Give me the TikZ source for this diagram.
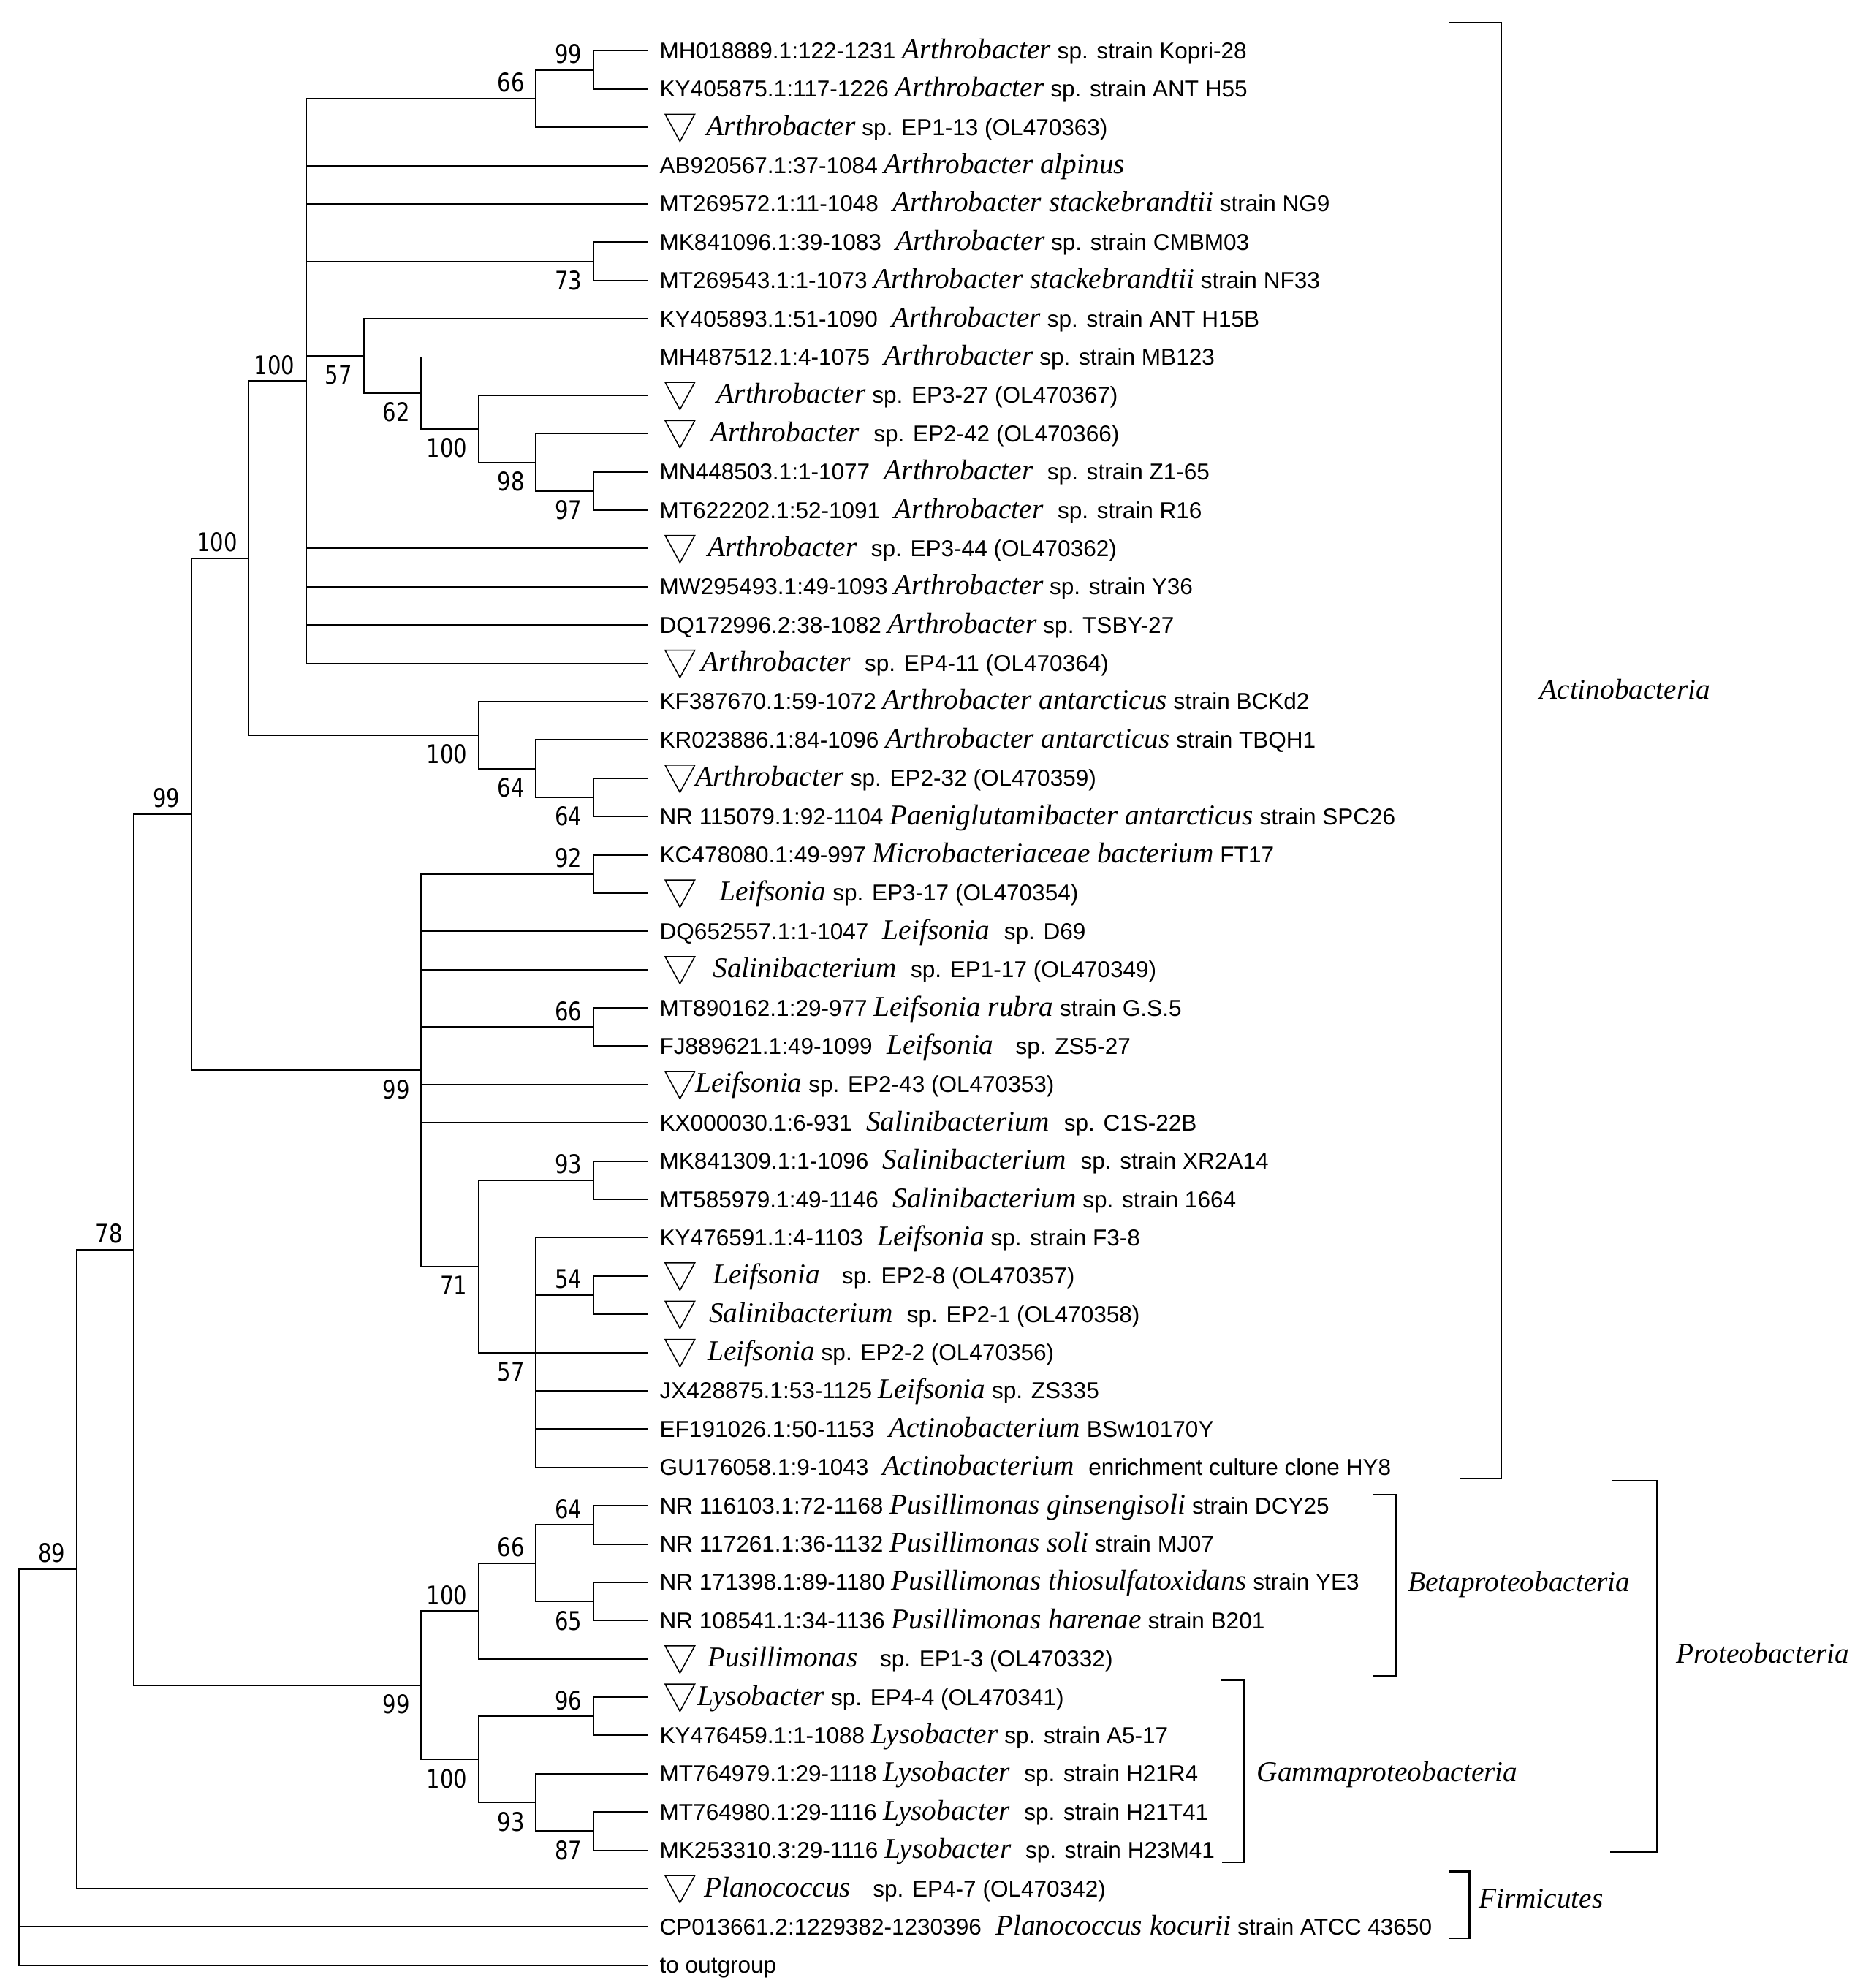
\documentclass[tikz,border=0pt]{standalone}
\usepackage{fontspec}
\setmainfont{Liberation Sans}
\newfontfamily\serifit{Liberation Serif}
\newfontfamily\bsfam[FakeStretch=0.83]{DejaVu Sans}
\newcommand\gn[1]{{\fontsize{12.9}{14}\selectfont\serifit\itshape #1}}
\newcommand\xs{\hspace{3.5pt}}
\tikzset{
  branch/.style={line width=0.65pt},
  leaftext/.style={anchor=base west, inner sep=0pt, yshift=-3.6pt, font=\fontsize{10.35}{12}\selectfont},
  bsup/.style={anchor=base east, inner sep=0pt, xshift=-4.9pt, yshift=3pt, font={\bsfam\fontsize{11.5}{13}\selectfont}},
  bsdown/.style={anchor=base east, inner sep=0pt, xshift=-4.9pt, yshift=-12.8pt, font={\bsfam\fontsize{11.5}{13}\selectfont}},
  tri/.style={line width=0.5pt, line join=miter},
  grouptext/.style={anchor=base west, inner sep=0pt, font={\serifit\itshape\fontsize{12.9}{14}\selectfont}},
  bracket/.style={line width=0.7pt}
}
\newcommand\leaftri[1]{\draw[tri] (524.6,{#1-10.3}) -- (548,{#1-10.3}) -- (536.3,{#1+11.2}) -- cycle;}
\begin{document}
\begin{tikzpicture}[x=0.02cm, y=-0.02cm]
\fill[white] (0,0) rectangle (1478,1568);
\useasboundingbox (0,0) rectangle (1478,1568);
% leaves
\coordinate (L1) at (511,40);
\coordinate (L2) at (511,70.2);
\coordinate (L3) at (511,100.4);
\coordinate (L4) at (511,130.6);
\coordinate (L5) at (511,160.8);
\coordinate (L6) at (511,191);
\coordinate (L7) at (511,221.2);
\coordinate (L8) at (511,251.4);
\coordinate (L9) at (511,281.6);
\coordinate (L10) at (511,311.8);
\coordinate (L11) at (511,342);
\coordinate (L12) at (511,372.2);
\coordinate (L13) at (511,402.4);
\coordinate (L14) at (511,432.6);
\coordinate (L15) at (511,462.8);
\coordinate (L16) at (511,493);
\coordinate (L17) at (511,523.2);
\coordinate (L18) at (511,553.4);
\coordinate (L19) at (511,583.6);
\coordinate (L20) at (511,613.8);
\coordinate (L21) at (511,644);
\coordinate (L22) at (511,674.2);
\coordinate (L23) at (511,704.4);
\coordinate (L24) at (511,734.6);
\coordinate (L25) at (511,764.8);
\coordinate (L26) at (511,795);
\coordinate (L27) at (511,825.2);
\coordinate (L28) at (511,855.4);
\coordinate (L29) at (511,885.6);
\coordinate (L30) at (511,915.8);
\coordinate (L31) at (511,946);
\coordinate (L32) at (511,976.2);
\coordinate (L33) at (511,1006.4);
\coordinate (L34) at (511,1036.6);
\coordinate (L35) at (511,1066.8);
\coordinate (L36) at (511,1097);
\coordinate (L37) at (511,1127.2);
\coordinate (L38) at (511,1157.4);
\coordinate (L39) at (511,1187.6);
\coordinate (L40) at (511,1217.8);
\coordinate (L41) at (511,1248);
\coordinate (L42) at (511,1278.2);
\coordinate (L43) at (511,1308.4);
\coordinate (L44) at (511,1338.6);
\coordinate (L45) at (511,1368.8);
\coordinate (L46) at (511,1399);
\coordinate (L47) at (511,1429.2);
\coordinate (L48) at (511,1459.4);
\coordinate (L49) at (511,1489.6);
\coordinate (L50) at (511,1519.8);
\coordinate (L51) at (511,1550);
% internal nodes
\coordinate (root) at (15,1393.8);
\coordinate (n89) at (60.3,1237.6);
\coordinate (n78) at (105.6,985.65);
\coordinate (n99a) at (150.9,642.1);
\coordinate (n100a) at (196.2,440.15);
\coordinate (n100b) at (241.5,300.5);
\coordinate (n66a) at (422.7,77.75);
\coordinate (n99b) at (468,55.1);
\coordinate (n73) at (468,206.1);
\coordinate (n57a) at (286.8,280.65);
\coordinate (n62) at (332.1,309.9);
\coordinate (n100c) at (377.4,338.2);
\coordinate (n98) at (422.7,364.65);
\coordinate (n97) at (468,387.3);
\coordinate (n100d) at (377.4,579.8);
\coordinate (n64a) at (422.7,606.25);
\coordinate (n64b) at (468,628.9);
\coordinate (n99c) at (332.1,844.1);
\coordinate (n92) at (468,689.3);
\coordinate (n66b) at (468,810.1);
\coordinate (n71) at (377.4,998.85);
\coordinate (n93a) at (468,930.9);
\coordinate (n57b) at (422.7,1066.8);
\coordinate (n54) at (468,1021.5);
\coordinate (n99d) at (332.1,1329.2);
\coordinate (n100e) at (377.4,1270.65);
\coordinate (n66c) at (422.7,1232.9);
\coordinate (n64c) at (468,1202.7);
\coordinate (n65) at (468,1263.1);
\coordinate (n100f) at (377.4,1387.7);
\coordinate (n96) at (468,1353.7);
\coordinate (n93b) at (422.7,1421.65);
\coordinate (n87) at (468,1444.3);
% branches
\foreach \p/\cs in {root/{n89,L50,L51}, n89/{n78,L49}, n78/{n99a,n99d}, n99a/{n100a,n99c},
  n100a/{n100b,n100d}, n100b/{n66a,L4,L5,n73,n57a,L14,L15,L16,L17}, n66a/{n99b,L3},
  n99b/{L1,L2}, n73/{L6,L7}, n57a/{L8,n62}, n62/{L9,n100c}, n100c/{L10,n98}, n98/{L11,n97},
  n97/{L12,L13}, n100d/{L18,n64a}, n64a/{L19,n64b}, n64b/{L20,L21},
  n99c/{n92,L24,L25,n66b,L28,L29,n71}, n92/{L22,L23}, n66b/{L26,L27}, n71/{n93a,n57b},
  n93a/{L30,L31}, n57b/{L32,n54,L35,L36,L37,L38}, n54/{L33,L34}, n99d/{n100e,n100f},
  n100e/{n66c,L43}, n66c/{n64c,n65}, n64c/{L39,L40}, n65/{L41,L42}, n100f/{n96,n93b},
  n96/{L44,L45}, n93b/{L46,n87}, n87/{L47,L48}}
  {\foreach \c in \cs {\draw[branch] (\p) |- (\c);}}
% bootstrap values
\node[bsup] (b99b) at (n99b) {99};
\node[bsup] (b66a) at (n66a) {66};
\node[bsdown] (b73) at (n73) {73};
\node[bsup] (b100b) at (n100b) {100};
\node[bsdown] (b57a) at (n57a) {57};
\node[bsdown] (b62) at (n62) {62};
\node[bsdown] (b100c) at (n100c) {100};
\node[bsdown] (b98) at (n98) {98};
\node[bsdown] (b97) at (n97) {97};
\node[bsup] (b100a) at (n100a) {100};
\node[bsdown] (b100d) at (n100d) {100};
\node[bsdown] (b64a) at (n64a) {64};
\node[bsdown] (b64b) at (n64b) {64};
\node[bsup] (b99a) at (n99a) {99};
\node[bsup] (b92) at (n92) {92};
\node[bsup] (b66b) at (n66b) {66};
\node[bsdown] (b99c) at (n99c) {99};
\node[bsdown] (b71) at (n71) {71};
\node[bsup] (b93a) at (n93a) {93};
\node[bsdown] (b57b) at (n57b) {57};
\node[bsup] (b54) at (n54) {54};
\node[bsup] (b78) at (n78) {78};
\node[bsup] (b89) at (n89) {89};
\node[bsdown] (b99d) at (n99d) {99};
\node[bsup] (b100e) at (n100e) {100};
\node[bsup] (b66c) at (n66c) {66};
\node[bsup] (b64c) at (n64c) {64};
\node[bsdown] (b65) at (n65) {65};
\node[bsup] (b96) at (n96) {96};
\node[bsdown] (b100f) at (n100f) {100};
\node[bsdown] (b93b) at (n93b) {93};
\node[bsdown] (b87) at (n87) {87};
% triangles
\leaftri{100.4}
\leaftri{311.8}
\leaftri{342}
\leaftri{432.6}
\leaftri{523.2}
\leaftri{613.8}
\leaftri{704.4}
\leaftri{764.8}
\leaftri{855.4}
\leaftri{1006.4}
\leaftri{1036.6}
\leaftri{1066.8}
\leaftri{1308.4}
\leaftri{1338.6}
\leaftri{1489.6}
% leaf labels
\node[leaftext] (t1) at (520,40) {MH018889.1:122-1231 \gn{Arthrobacter} sp. strain Kopri-28};
\node[leaftext] (t2) at (520,70.2) {KY405875.1:117-1226 \gn{Arthrobacter} sp. strain ANT H55};
\node[leaftext] (t3) at (557,100.4) {\gn{Arthrobacter} sp. EP1-13 (OL470363)};
\node[leaftext] (t4) at (520,130.6) {AB920567.1:37-1084 \gn{Arthrobacter alpinus}};
\node[leaftext] (t5) at (520,160.8) {MT269572.1:11-1048 \xs\gn{Arthrobacter stackebrandtii} strain NG9};
\node[leaftext] (t6) at (520,191) {MK841096.1:39-1083 \xs\gn{Arthrobacter} sp. strain CMBM03};
\node[leaftext] (t7) at (520,221.2) {MT269543.1:1-1073 \gn{Arthrobacter stackebrandtii} strain NF33};
\node[leaftext] (t8) at (520,251.4) {KY405893.1:51-1090 \xs\gn{Arthrobacter} sp. strain ANT H15B};
\node[leaftext] (t9) at (520,281.6) {MH487512.1:4-1075 \xs\gn{Arthrobacter} sp. strain MB123};
\node[leaftext] (t10) at (565,311.8) {\gn{Arthrobacter} sp. EP3-27 (OL470367)};
\node[leaftext] (t11) at (560,342) {\gn{Arthrobacter} \xs sp. EP2-42 (OL470366)};
\node[leaftext] (t12) at (520,372.2) {MN448503.1:1-1077 \xs\gn{Arthrobacter} \xs sp. strain Z1-65};
\node[leaftext] (t13) at (520,402.4) {MT622202.1:52-1091 \xs\gn{Arthrobacter} \xs sp. strain R16};
\node[leaftext] (t14) at (558,432.6) {\gn{Arthrobacter} \xs sp. EP3-44 (OL470362)};
\node[leaftext] (t15) at (520,462.8) {MW295493.1:49-1093 \gn{Arthrobacter} sp. strain Y36};
\node[leaftext] (t16) at (520,493) {DQ172996.2:38-1082 \gn{Arthrobacter} sp. TSBY-27};
\node[leaftext] (t17) at (553,523.2) {\gn{Arthrobacter} \xs sp. EP4-11 (OL470364)};
\node[leaftext] (t18) at (520,553.4) {KF387670.1:59-1072 \gn{Arthrobacter antarcticus} strain BCKd2};
\node[leaftext] (t19) at (520,583.6) {KR023886.1:84-1096 \gn{Arthrobacter antarcticus} strain TBQH1};
\node[leaftext] (t20) at (548,613.8) {\gn{Arthrobacter} sp. EP2-32 (OL470359)};
\node[leaftext] (t21) at (520,644) {NR 115079.1:92-1104 \gn{Paeniglutamibacter antarcticus} strain SPC26};
\node[leaftext] (t22) at (520,674.2) {KC478080.1:49-997 \gn{Microbacteriaceae bacterium} FT17};
\node[leaftext] (t23) at (567,704.4) {\gn{Leifsonia} sp. EP3-17 (OL470354)};
\node[leaftext] (t24) at (520,734.6) {DQ652557.1:1-1047 \xs\gn{Leifsonia} \xs sp. D69};
\node[leaftext] (t25) at (562,764.8) {\gn{Salinibacterium} \xs sp. EP1-17 (OL470349)};
\node[leaftext] (t26) at (520,795) {MT890162.1:29-977 \gn{Leifsonia rubra} strain G.S.5};
\node[leaftext] (t27) at (520,825.2) {FJ889621.1:49-1099 \xs\gn{Leifsonia} \xs\xs sp. ZS5-27};
\node[leaftext] (t28) at (548,855.4) {\gn{Leifsonia} sp. EP2-43 (OL470353)};
\node[leaftext] (t29) at (520,885.6) {KX000030.1:6-931 \xs\gn{Salinibacterium} \xs sp. C1S-22B};
\node[leaftext] (t30) at (520,915.8) {MK841309.1:1-1096 \xs\gn{Salinibacterium} \xs sp. strain XR2A14};
\node[leaftext] (t31) at (520,946) {MT585979.1:49-1146 \xs\gn{Salinibacterium} sp. strain 1664};
\node[leaftext] (t32) at (520,976.2) {KY476591.1:4-1103 \xs\gn{Leifsonia} sp. strain F3-8};
\node[leaftext] (t33) at (562,1006.4) {\gn{Leifsonia} \xs\xs sp. EP2-8 (OL470357)};
\node[leaftext] (t34) at (559,1036.6) {\gn{Salinibacterium} \xs sp. EP2-1 (OL470358)};
\node[leaftext] (t35) at (558,1066.8) {\gn{Leifsonia} sp. EP2-2 (OL470356)};
\node[leaftext] (t36) at (520,1097) {JX428875.1:53-1125 \gn{Leifsonia} sp. ZS335};
\node[leaftext] (t37) at (520,1127.2) {EF191026.1:50-1153 \xs\gn{Actinobacterium} BSw10170Y};
\node[leaftext] (t38) at (520,1157.4) {GU176058.1:9-1043 \xs\gn{Actinobacterium} \xs enrichment culture clone HY8};
\node[leaftext] (t39) at (520,1187.6) {NR 116103.1:72-1168 \gn{Pusillimonas ginsengisoli} strain DCY25};
\node[leaftext] (t40) at (520,1217.8) {NR 117261.1:36-1132 \gn{Pusillimonas soli} strain MJ07};
\node[leaftext] (t41) at (520,1248) {NR 171398.1:89-1180 \gn{Pusillimonas thiosulfatoxidans} strain YE3};
\node[leaftext] (t42) at (520,1278.2) {NR 108541.1:34-1136 \gn{Pusillimonas harenae} strain B201};
\node[leaftext] (t43) at (558,1308.4) {\gn{Pusillimonas} \xs\xs sp. EP1-3 (OL470332)};
\node[leaftext] (t44) at (550,1338.6) {\gn{Lysobacter} sp. EP4-4 (OL470341)};
\node[leaftext] (t45) at (520,1368.8) {KY476459.1:1-1088 \gn{Lysobacter} sp. strain A5-17};
\node[leaftext] (t46) at (520,1399) {MT764979.1:29-1118 \gn{Lysobacter} \xs sp. strain H21R4};
\node[leaftext] (t47) at (520,1429.2) {MT764980.1:29-1116 \gn{Lysobacter} \xs sp. strain H21T41};
\node[leaftext] (t48) at (520,1459.4) {MK253310.3:29-1116 \gn{Lysobacter} \xs sp. strain H23M41};
\node[leaftext] (t49) at (555,1489.6) {\gn{Planococcus} \xs\xs sp. EP4-7 (OL470342)};
\node[leaftext] (t50) at (520,1519.8) {CP013661.2:1229382-1230396 \xs\gn{Planococcus kocurii} strain ATCC 43650};
\node[leaftext] (t51) at (520,1550) {to outgroup};
% clade brackets
\draw[bracket] (1143,18) -- (1184,18) -- (1184,1166) -- (1152,1166);
\draw[bracket] (1083,1179) -- (1101,1179) -- (1101,1322) -- (1083,1322);
\draw[bracket] (963,1325) -- (981,1325) -- (981,1469) -- (964,1469);
\draw[bracket] (1271,1168) -- (1307,1168) -- (1307,1461) -- (1270,1461);
\draw[bracket] (1143,1476) -- (1159,1476) -- (1159,1529) -- (1143,1529);
\node[grouptext] (gAct) at (1214,551.5) {Actinobacteria};
\node[grouptext] (gBeta) at (1110,1255) {Betaproteobacteria};
\node[grouptext] (gGamma) at (991,1405) {Gammaproteobacteria};
\node[grouptext] (gProt) at (1322,1311.5) {Proteobacteria};
\node[grouptext] (gFirm) at (1166,1505) {Firmicutes};
\end{tikzpicture}
\end{document}
